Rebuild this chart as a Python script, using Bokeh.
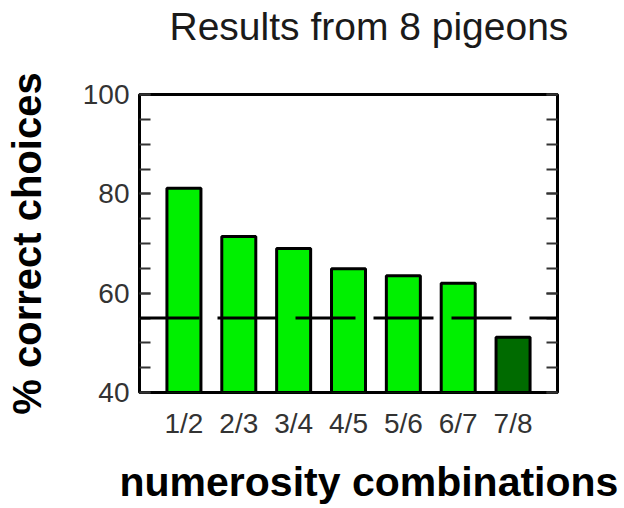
from bokeh.plotting import figure
from bokeh.models import FactorRange, Range1d, LinearAxis, Span, ColumnDataSource, FixedTicker, Title
from bokeh.embed import file_html
from bokeh.resources import INLINE

# data
categories = ["1/2", "2/3", "3/4", "4/5", "5/6", "6/7", "7/8"]
percent_correct = [81.1, 71.4, 69.0, 64.9, 63.5, 62.0, 51.1]
bar_colors = ["#00f000", "#00f000", "#00f000", "#00f000", "#00f000", "#00f000", "#006b00"]
chance_level = 55
y_major_ticks = [40, 60, 80, 100]
y_minor_ticks = [40, 45, 50, 55, 60, 65, 70, 75, 80, 85, 90, 95, 100]
title_text = "Results from 8 pigeons"
x_label_text = "numerosity combinations"
y_label_text = "% correct choices"

src = ColumnDataSource(dict(cat=categories, val=percent_correct, color=bar_colors))

FONT = "Liberation Sans"

p = figure(width=620, height=506, output_backend="svg", toolbar_location=None,
           x_range=FactorRange(factors=categories, range_padding=0.0886, range_padding_units="percent"),
           y_range=Range1d(40, 100),
           min_border_left=139, min_border_right=63, min_border_top=93, min_border_bottom=114)

p.vbar(x="cat", top="val", bottom=40, width=0.62, source=src,
       fill_color="color", line_color="black", line_width=3)

p.add_layout(Span(location=chance_level, dimension="width", line_color="black",
                  line_width=3, line_dash="60 18"))

p.grid.visible = False
p.outline_line_color = "black"
p.outline_line_width = 3
p.background_fill_color = "white"
p.border_fill_color = "white"

# main title (outermost panel above)
p.title.text = title_text
p.title.text_font = FONT
p.title.text_font_size = "39px"
p.title.text_font_style = "normal"
p.title.text_color = "#1a1a1a"
p.title.align = "left"
p.title.vertical_align = "top"
p.title.offset = 30
p.title.standoff = 8

# white spacer between title and frame
p.add_layout(Title(text=".", text_font_size="4px", text_color="#ffffff", standoff=36), "above")

xa = p.xaxis[0]
xa.major_label_text_font = FONT
xa.major_label_text_font_size = "28px"
xa.major_label_text_color = "#333333"
xa.major_label_standoff = 9
xa.major_tick_line_color = None
xa.minor_tick_line_color = None
xa.axis_line_color = None

# white spacer between tick labels and x label, then x label
p.add_layout(Title(text=".", text_font_size="4px", text_color="#ffffff", standoff=10), "below")
p.add_layout(Title(text=x_label_text, text_font=FONT, text_font_size="41px",
                   text_font_style="bold", text_color="black", align="left",
                   offset=-20, standoff=0), "below")

ya = p.yaxis[0]
ya.ticker = FixedTicker(ticks=y_major_ticks, minor_ticks=y_minor_ticks)
ya.axis_label = y_label_text
ya.axis_label_text_font = FONT
ya.axis_label_text_font_size = "40px"
ya.axis_label_text_font_style = "bold"
ya.axis_label_text_color = "black"
ya.axis_label_standoff = 31
ya.major_label_text_font = FONT
ya.major_label_text_font_size = "28px"
ya.major_label_text_color = "#333333"
ya.major_label_standoff = 10
ya.axis_line_color = None
ya.major_tick_in = 11
ya.major_tick_out = 0
ya.minor_tick_in = 11
ya.minor_tick_out = 0
ya.major_tick_line_width = 2
ya.minor_tick_line_width = 2
ya.major_tick_line_color = "#333333"
ya.minor_tick_line_color = "#333333"

ra = LinearAxis(ticker=FixedTicker(ticks=y_major_ticks, minor_ticks=y_minor_ticks))
ra.axis_line_color = None
ra.major_label_text_color = None
ra.major_label_text_font_size = "10px"
ra.major_tick_in = 11
ra.major_tick_out = 0
ra.minor_tick_in = 11
ra.minor_tick_out = 0
ra.major_tick_line_width = 2
ra.minor_tick_line_width = 2
ra.major_tick_line_color = "#333333"
ra.minor_tick_line_color = "#333333"
p.add_layout(ra, "right")

open("out.html", "w").write(file_html(p, INLINE))
